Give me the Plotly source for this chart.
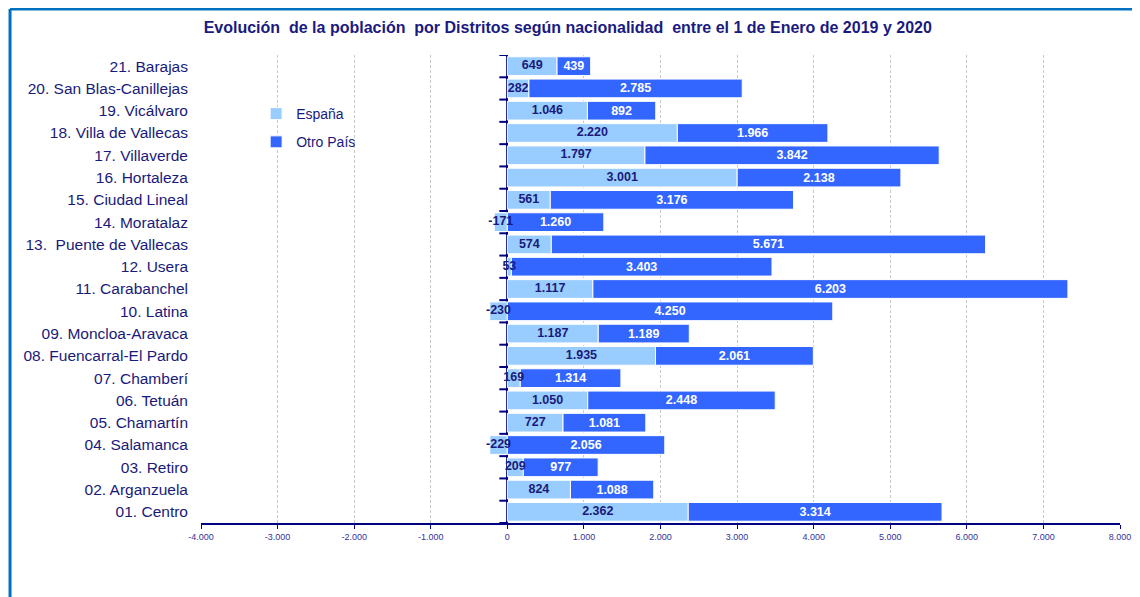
import plotly.graph_objects as go

districts = ["01. Centro", "02. Arganzuela", "03. Retiro", "04. Salamanca", "05. Chamartín",
             "06. Tetuán", "07. Chamberí", "08. Fuencarral-El Pardo", "09. Moncloa-Aravaca",
             "10. Latina", "11. Carabanchel", "12. Usera", "13.  Puente de Vallecas",
             "14. Moratalaz", "15. Ciudad Lineal", "16. Hortaleza", "17. Villaverde",
             "18. Villa de Vallecas", "19. Vicálvaro", "20. San Blas-Canillejas", "21. Barajas"]
espana = [2362, 824, 209, -229, 727, 1050, 169, 1935, 1187, -230, 1117, 53, 574,
          -171, 561, 3001, 1797, 2220, 1046, 282, 649]
otro_pais = [3314, 1088, 977, 2056, 1081, 2448, 1314, 2061, 1189, 4250, 6203, 3403, 5671,
             1260, 3176, 2138, 3842, 1966, 892, 2785, 439]
x_ticks = [-4000, -3000, -2000, -1000, 0, 1000, 2000, 3000, 4000, 5000, 6000, 7000, 8000]
x_tick_labels = ["-4.000", "-3.000", "-2.000", "-1.000", "0", "1.000", "2.000", "3.000",
                 "4.000", "5.000", "6.000", "7.000", "8.000"]


def fmt(v):
    return f"{v:,}".replace(",", ".")


FONT = "Arial, Liberation Sans, sans-serif"
NAVY = "#1a1a7a"

fig = go.Figure()
fig.add_trace(go.Bar(
    y=districts, x=espana, name="España", orientation="h",
    marker=dict(color="#99CCFF", line=dict(color="#ffffff", width=1)),
    legendgroup="a", hoverinfo="x+name",
))
fig.add_trace(go.Bar(
    y=districts, x=otro_pais, name="Otro País", orientation="h",
    marker=dict(color="#3366FF", line=dict(color="#ffffff", width=1)),
    text=[fmt(v) for v in otro_pais], textposition="inside", insidetextanchor="middle",
    textangle=0, constraintext="none",
    textfont=dict(family=FONT, size=12.5, color="#ffffff", weight="bold"),
    legendgroup="b", cliponaxis=False,
))
# España labels drawn on top of all bars (centred in the España segment)
fig.add_trace(go.Scatter(
    y=districts, x=[v / 2 for v in espana], mode="text",
    text=[fmt(v) for v in espana], textposition="middle center",
    textfont=dict(family=FONT, size=12.5, color=NAVY, weight="bold"),
    showlegend=False, hoverinfo="skip", cliponaxis=False,
))

shapes = []
# y-axis tick marks at zero, between categories
for k in range(len(districts) + 1):
    shapes.append(dict(type="line", xref="x", yref="y", xsizemode="pixel", xanchor=0,
                       x0=-8, x1=0, y0=k - 0.5, y1=k - 0.5,
                       line=dict(color="#000080", width=2)))
# outer frame (left and top blue lines)
shapes.append(dict(type="line", xref="paper", yref="paper", x0=-0.2078, x1=-0.2078,
                   y0=1.0983, y1=-0.3, line=dict(color="#0070C0", width=3)))
shapes.append(dict(type="line", xref="paper", yref="paper", x0=-0.2078, x1=1.1,
                   y0=1.0983, y1=1.0983, line=dict(color="#0070C0", width=3)))

fig.update_layout(
    width=1140, height=597,
    margin=dict(l=193, r=28, t=47, b=82),
    paper_bgcolor="white", plot_bgcolor="white",
    barmode="relative", bargap=0.16,
    font=dict(family=FONT, color=NAVY),
    title=dict(text="<b>Evolución  de la población  por Distritos según nacionalidad  entre el 1 de Enero de 2019 y 2020</b>",
               x=0.491, xanchor="center", y=1 - 19 / 597, yanchor="middle", yref="container",
               font=dict(family=FONT, size=16, color="#1a1a80")),
    xaxis=dict(range=[-4000, 8000], tickvals=x_ticks, ticktext=x_tick_labels,
               showgrid=True, gridcolor="#c8c8c8", griddash="3px,2px", gridwidth=1,
               zeroline=True, zerolinecolor="#000080", zerolinewidth=2,
               showline=True, linecolor="#000080", linewidth=2,
               ticks="outside", ticklen=4, tickcolor="#000080", tickwidth=1,
               tickfont=dict(family=FONT, size=9, color="#333399")),
    yaxis=dict(showgrid=False, zeroline=False, showline=False, ticks="",
               ticklabelstandoff=12,
               tickfont=dict(family=FONT, size=15.5, color=NAVY),
               range=[-0.5, len(districts) - 0.5]),
    legend=dict(x=0.06, y=0.908, xanchor="left", yanchor="top", bgcolor="rgba(0,0,0,0)",
                font=dict(family=FONT, size=14, color=NAVY), tracegroupgap=7,
                traceorder="grouped"),
    shapes=shapes,
)

fig.write_html("out.html")
